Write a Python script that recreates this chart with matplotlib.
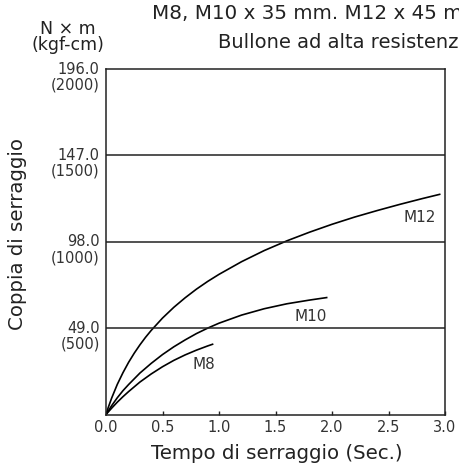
import matplotlib
matplotlib.use("Agg")
import matplotlib.pyplot as plt

# tightening time (s) and torque (N x m)
m12_time = [0, 0.02, 0.05, 0.1, 0.15, 0.2, 0.25, 0.3, 0.35, 0.4, 0.5, 0.6, 0.7, 0.8, 0.9,
            1.0, 1.2, 1.4, 1.6, 1.8, 2.0, 2.2, 2.4, 2.6, 2.8, 2.96]
m12_torque = [0, 4, 9.3, 17.1, 23.7, 29.6, 34.8, 39.5, 43.8, 47.7, 54.7, 60.8, 66.2, 71.1, 75.5,
              79.5, 86.7, 93.0, 98.5, 103.4, 107.9, 112.0, 115.7, 119.2, 122.5, 125]

m10_time = [0, 0.05, 0.1, 0.15, 0.2, 0.3, 0.4, 0.5, 0.6, 0.7, 0.8, 0.9,
            1.0, 1.2, 1.4, 1.6, 1.8, 1.96]
m10_torque = [0, 5, 9.5, 13.5, 17, 23.5, 29, 34, 38.4, 42.3, 45.9, 49,
              51.8, 56.4, 60.0, 62.8, 64.9, 66.4]

m8_time = [0, 0.05, 0.1, 0.15, 0.2, 0.3, 0.4, 0.5, 0.6, 0.7, 0.8, 0.9, 0.95]
m8_torque = [0, 3.6, 7.0, 10.1, 13.0, 18.4, 23.0, 27.1, 30.7, 33.8, 36.5, 38.9, 40.0]

y_ticks = [49.0, 98.0, 147.0, 196.0]
y_ticks_kgf = ["(500)", "(1000)", "(1500)", "(2000)"]
x_ticks = [0.0, 0.5, 1.0, 1.5, 2.0, 2.5, 3.0]

# curve label positions (time, torque)
curve_labels = [("M12", 2.78, 112), ("M10", 1.81, 55.5), ("M8", 0.87, 28.5)]

FONT = ["DejaVu Sans"]
INK = "#222222"
GREY = "#333333"

fig = plt.figure(figsize=(4.59, 4.65), dpi=100, facecolor="white")
ax = fig.add_axes([106 / 459, 1 - 414.5 / 465, 339 / 459, 345.5 / 465])

for t, v in [(m12_time, m12_torque), (m10_time, m10_torque), (m8_time, m8_torque)]:
    ax.plot(t, v, color="black", lw=1.2, solid_capstyle="butt")

for v in y_ticks[:-1]:
    ax.axhline(v, color=INK, lw=1.1)

ax.set_xlim(0, 3.0)
ax.set_ylim(0, 196.0)
for s in ax.spines.values():
    s.set_linewidth(1.1)
    s.set_color(INK)

ax.set_xticks(x_ticks)
ax.set_xticklabels([f"{x:.1f}" for x in x_ticks], family=FONT, fontsize=10.5, color=GREY)
ax.tick_params(axis="x", direction="in", length=3, width=1.0, pad=4, color=INK)
ax.set_yticks([])

# two-line y tick labels: N x m above, kgf-cm below
for v, kg in zip(y_ticks, y_ticks_kgf):
    ax.annotate(f"{v:.1f}", xy=(0, v), xycoords=("axes fraction", "data"),
                xytext=(-4.5, 0), textcoords="offset points", ha="right", va="center",
                family=FONT, fontsize=10.5, color=GREY)
    ax.annotate(kg, xy=(0, v), xycoords=("axes fraction", "data"),
                xytext=(-4.5, -11.5), textcoords="offset points", ha="right", va="center",
                family=FONT, fontsize=10.5, color=GREY)

for name, t, v in curve_labels:
    ax.text(t, v, name, ha="center", va="center", family=FONT, fontsize=11, color=GREY)

fig.text(277 / 459, 1 - 453 / 465, "Tempo di serraggio (Sec.)", ha="center", va="center",
         family=FONT, fontsize=14.2, color=INK)
fig.text(18 / 459, 1 - 234 / 465, "Coppia di serraggio", ha="center", va="center",
         rotation=90, family=FONT, fontsize=14.2, color=INK)

fig.text(68 / 459, 1 - 29 / 465, "N \u00d7 m", ha="center", va="center",
         family=FONT, fontsize=12.5, color=INK)
fig.text(68 / 459, 1 - 45.5 / 465, "(kgf-cm)", ha="center", va="center",
         family=FONT, fontsize=12.5, color=INK)

# title runs past the right edge in the original
fig.text(152 / 459, 1 - 19 / 465, "M8, M10 x 35 mm. M12 x 45 mm", ha="left", va="baseline",
         family=FONT, fontsize=14.3, color=INK)
fig.text(218 / 459, 1 - 48 / 465, "Bullone ad alta resistenza", ha="left", va="baseline",
         family=FONT, fontsize=14, color=INK)

fig.savefig("out.png", dpi=100, facecolor="white")
